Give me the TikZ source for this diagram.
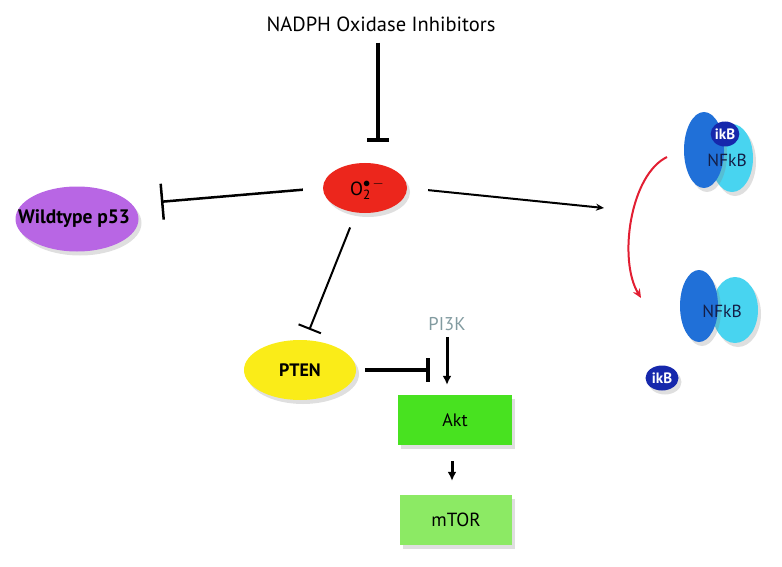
\documentclass[tikz,border=0pt]{standalone}
\usepackage{fontspec}
\setmainfont{PT Sans}
\usetikzlibrary{shapes.geometric,arrows.meta,shadows}
\definecolor{otwo}{RGB}{236,38,28}
\definecolor{pfiftythree}{RGB}{184,102,228}
\definecolor{ptenyel}{RGB}{250,236,24}
\definecolor{aktgreen}{RGB}{72,226,32}
\definecolor{mtorgreen}{RGB}{140,234,100}
\definecolor{nfdark}{RGB}{32,112,216}
\definecolor{nflight}{RGB}{72,212,240}
\definecolor{ikbnavy}{RGB}{22,40,172}
\definecolor{nftext}{RGB}{20,30,70}
\definecolor{redarrow}{RGB}{226,30,50}
\definecolor{pithree}{RGB}{130,155,160}
\tikzset{
  shad/.style={drop shadow={opacity=0.25,shadow xshift=3pt,shadow yshift=-4pt}},
  oval/.style={ellipse,inner sep=0pt,shad},
  boxnode/.style={rectangle,inner sep=0pt,shad},
  lbl/.style={inner sep=1pt}
}
\begin{document}
\begin{tikzpicture}[x=1pt,y=-1pt]
\useasboundingbox (0,0) rectangle (782,567);
% nodes
\node[lbl,font=\fontsize{20.5}{22}\selectfont] (title) at (381,24) {NADPH Oxidase Inhibitors};
\node[oval,fill=otwo,minimum width=84pt,minimum height=50pt] (o2) at (365,188) {};
\node[font=\fontsize{19}{20}\selectfont] (o2txt) at (367,189) {O\rlap{\textsubscript{2}}\raisebox{0.9ex}{$\scriptstyle\bullet\,-$}};
\node[oval,fill=pfiftythree,minimum width=123pt,minimum height=65pt] (p53) at (77,219) {};
\node[font=\bfseries\fontsize{19.5}{22}\selectfont] (p53txt) at (74,219) {Wildtype p53};
\node[oval,fill=ptenyel,minimum width=112pt,minimum height=60pt] (pten) at (300,370) {};
\node[font=\bfseries\fontsize{18}{20}\selectfont] (ptentxt) at (300,370) {PTEN};
\node[lbl,text=pithree,font=\fontsize{18.5}{20}\selectfont] (pi3k) at (447,324) {PI3K};
\node[boxnode,fill=aktgreen,minimum width=114pt,minimum height=50pt,font=\fontsize{18}{20}\selectfont] (akt) at (455,420) {Akt};
\node[boxnode,fill=mtorgreen,minimum width=112pt,minimum height=50pt,font=\fontsize{19}{20}\selectfont] (mtor) at (456,520) {mTOR};
% NFkB top
\node[oval,fill=nflight,minimum width=42pt,minimum height=68pt] (nfB) at (732,158) {};
\node[oval,fill=nfdark,minimum width=40pt,minimum height=76pt] (nfA) at (704,150) {};
\node[font=\fontsize{17.5}{18}\selectfont,text=nftext] (nftop) at (727,160) {NFkB};
\node[ellipse,inner sep=0pt,fill=ikbnavy,minimum width=27pt,minimum height=25pt,text=white,font=\bfseries\fontsize{15}{16}\selectfont] (ikbA) at (725,134) {ikB};
% NFkB bottom
\node[oval,fill=nflight,minimum width=46pt,minimum height=66pt] (nfD) at (735,310) {};
\node[oval,fill=nfdark,minimum width=38pt,minimum height=72pt] (nfC) at (699,306) {};
\node[font=\fontsize{17.5}{18}\selectfont,text=nftext] (nfbot) at (722,311) {NFkB};
\node[oval,fill=ikbnavy,minimum width=33pt,minimum height=25pt] (ikbB) at (662,378) {};
\node[text=white,font=\bfseries\fontsize{15}{16}\selectfont] (ikbBtxt) at (662,378) {ikB};
% free ends
\coordinate (nfend) at (604,208);
\coordinate (redS) at (667,157);
\coordinate (redE) at (641,298);
% connectors
\draw[line width=4pt,-{Bar[width=22pt]},shorten <=10pt,shorten >=21pt] (title.south -| 378,0) -- (o2.north -| 378,0);
\draw[line width=2.5pt,-{Bar[width=36pt]},shorten <=20pt,shorten >=29pt] (o2.west) -- (p53.15);
\draw[line width=2pt,-{Stealth[length=8pt,width=7pt]},shorten <=21pt] (o2.east) -- (nfend);
\draw[line width=2pt,-{Bar[width=24pt]},shorten <=16pt,shorten >=11pt] (o2.250) -- (pten.80);
\draw[line width=4pt,-{Bar[width=24pt]},shorten <=9pt,shorten >=17pt] (pten.east) -- (pten.east -| pi3k.south);
\draw[line width=3pt,-{Latex[length=9pt,width=9pt]},shorten <=5pt,shorten >=10pt] (pi3k.south) -- (pi3k.south |- akt.north);
\draw[line width=3pt,-{Latex[length=9pt,width=9pt]},shorten <=16pt,shorten >=14pt] (akt.south -| 452,0) -- (mtor.north -| 452,0);
\draw[redarrow,line width=2pt,-{Stealth[length=9pt,width=8pt]}] (redS) .. controls (630,175) and (618,260) .. (redE);
\end{tikzpicture}
\end{document}
